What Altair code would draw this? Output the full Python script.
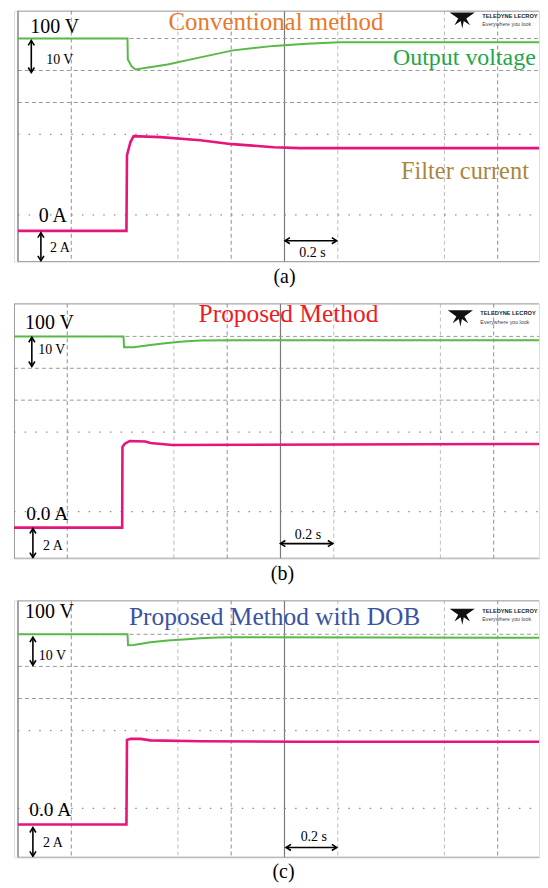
import altair as alt
import pandas as pd

SERIF = "Liberation Serif"
GREEN = "#58B947"
PINK = "#E5157A"
ORANGE = "#E8782C"
GREEN_TXT = "#1FA64A"
BROWN = "#A8873F"
RED = "#EE1C25"
BLUE = "#3953A4"

# ---------------- traces (time in s, voltage in V, current in A) ----------------
a_v_t = [0.0, 0.411, 0.412, 0.426, 0.441, 0.561, 0.684, 0.807, 0.961, 1.084, 1.207, 1.985]
a_v = [100.0, 100.0, 93.5, 91.3, 90.3, 91.9, 94.1, 96.3, 97.7, 98.4, 98.8, 98.8]
a_i_t = [0.0, 0.407, 0.409, 0.415, 0.422, 0.434, 0.535, 0.684, 0.804, 0.961, 1.058, 1.985]
a_i = [0.0, 0.0, 4.73, 5.11, 5.55, 5.92, 5.86, 5.67, 5.42, 5.23, 5.17, 5.17]

b_v_t = [0.0, 0.411, 0.413, 0.449, 0.512, 0.576, 0.636, 0.699, 0.822, 2.0]
b_v = [100.0, 100.0, 96.6, 96.6, 97.3, 97.9, 98.4, 98.7, 98.8, 98.8]
b_i_t = [0.0, 0.406, 0.407, 0.415, 0.434, 0.493, 0.512, 0.594, 2.0]
b_i = [0.0, 0.0, 5.06, 5.25, 5.44, 5.40, 5.31, 5.19, 5.25]

c_v_t = [0.0, 0.411, 0.413, 0.434, 0.497, 0.561, 0.621, 0.684, 0.748, 0.807, 1.985]
c_v = [100.0, 100.0, 96.6, 96.7, 97.5, 98.05, 98.4, 98.8, 99.0, 99.1, 98.9]
c_i_t = [0.0, 0.407, 0.409, 0.422, 0.460, 0.497, 0.684, 1.058, 1.985]
c_i = [0.0, 0.0, 5.27, 5.33, 5.33, 5.24, 5.18, 5.15, 5.15]

# ---------------- oscilloscope grid ----------------
grid_dark_t = [0.2, 0.8, 1.8]
grid_light_t = [0.6, 1.2, 1.6]
center_t = [1.0]
grid_v_dashed = [100.0, 90.0, 80.0]
grid_v_dotted = [70.0]
grid_i_dotted = [1.0]

UP = "M -0.5 0.8 L 0 0 L 0.5 0.8"
DOWN = "M -0.5 -0.8 L 0 0 L 0.5 -0.8"
LEFT = "M 0.8 -0.5 L 0 0 L 0.8 0.5"
RIGHT = "M -0.8 -0.5 L 0 0 L -0.8 0.5"
LOGO = ("M -1 -0.6 L 1 -0.6 L 0.32 -0.12 L 0.62 0.42 L 0.12 0.08 "
        "L 0 0.7 L -0.12 0.08 L -0.62 0.42 L -0.32 -0.12 Z")


def build_panel(p):
    tdom, vdom, idom = p["tdom"], p["vdom"], p["idom"]
    tmax = tdom[1]

    def X(f):
        return alt.X(f, type="quantitative", scale=alt.Scale(domain=tdom), axis=None)

    def YV(f):
        return alt.Y(f, type="quantitative", scale=alt.Scale(domain=vdom), axis=None)

    def YI(f):
        return alt.Y(f, type="quantitative", scale=alt.Scale(domain=idom), axis=None)

    L = []
    L.append(alt.Chart(pd.DataFrame({"t": grid_dark_t})).mark_rule(
        color="#8f8f8f", strokeWidth=1, strokeDash=[4, 3], clip=True).encode(x=X("t")))
    L.append(alt.Chart(pd.DataFrame({"t": grid_light_t})).mark_rule(
        color="#bdbdbd", strokeWidth=1, strokeDash=[4, 3], clip=True).encode(x=X("t")))
    L.append(alt.Chart(pd.DataFrame({"t": center_t})).mark_rule(
        color="#7a7a7a", strokeWidth=1.2, clip=True).encode(x=X("t")))
    L.append(alt.Chart(pd.DataFrame({"v": grid_v_dashed, "x0": 0.0, "x1": tmax})).mark_rule(
        color="#9a9a9a", strokeWidth=1, strokeDash=[4, 3], clip=True).encode(
        y=YV("v"), x=X("x0"), x2=alt.X2("x1")))
    L.append(alt.Chart(pd.DataFrame({"v": grid_v_dotted, "x0": 0.0, "x1": tmax})).mark_rule(
        color="#8a8a8a", strokeWidth=1.2, strokeDash=[1.5, 9.2], clip=True).encode(
        y=YV("v"), x=X("x0"), x2=alt.X2("x1")))
    L.append(alt.Chart(pd.DataFrame({"v": grid_i_dotted, "x0": 0.0, "x1": tmax})).mark_rule(
        color="#8a8a8a", strokeWidth=1.2, strokeDash=[1.5, 9.2], clip=True).encode(
        y=YI("v"), x=X("x0"), x2=alt.X2("x1")))
    L.append(alt.Chart(pd.DataFrame({"t": [0.0]})).mark_rule(
        color="#8c8c8c", strokeWidth=1.6, clip=True).encode(x=X("t")))
    L.append(alt.Chart(pd.DataFrame({"v": [vdom[0], vdom[1]], "x0": 0.0, "x1": tmax})).mark_rule(
        color="#8c8c8c", strokeWidth=1.6, clip=True).encode(y=YV("v"), x=X("x0"), x2=alt.X2("x1")))
    L.append(alt.Chart(pd.DataFrame({"t": p["vt"], "v": p["v"]})).mark_line(
        color=GREEN, strokeWidth=2, clip=True).encode(x=X("t"), y=YV("v")))
    L.append(alt.Chart(pd.DataFrame({"t": p["it"], "v": p["i"]})).mark_line(
        color=PINK, strokeWidth=2.6, clip=True).encode(x=X("t"), y=YI("v")))

    def txt(text, t, val, yf, size, color="black", font=SERIF, align="center",
            baseline="alphabetic", weight="normal"):
        return alt.Chart(pd.DataFrame({"t": [t], "v": [val]})).mark_text(
            text=text, font=font, fontSize=size, color=color, align=align,
            baseline=baseline, fontWeight=weight, clip=True).encode(x=X("t"), y=yf("v"))

    for (text, t, val, size, color) in p["vtexts"]:
        L.append(txt(text, t, val, YV, size, color))
    for (text, t, val, size, color) in p["itexts"]:
        L.append(txt(text, t, val, YI, size, color))

    def head(t, v, shape, yf):
        return alt.Chart(pd.DataFrame({"t": [t], "v": [v]})).mark_point(
            shape=shape, filled=False, size=150, strokeWidth=1.6, color="black",
            opacity=1, clip=True).encode(x=X("t"), y=yf("v"))

    def varrow(t, hi, lo, yf):
        df = pd.DataFrame({"t": [t], "a": [hi], "b": [lo]})
        return [alt.Chart(df).mark_rule(color="black", strokeWidth=1.6, clip=True).encode(
            x=X("t"), y=yf("a"), y2=alt.Y2("b")),
            head(t, hi, UP, yf), head(t, lo, DOWN, yf)]

    def harrow(t1, t2, val, yf):
        df = pd.DataFrame({"a": [t1], "b": [t2], "v": [val]})
        return [alt.Chart(df).mark_rule(color="black", strokeWidth=1.6, clip=True).encode(
            x=X("a"), x2=alt.X2("b"), y=yf("v")),
            head(t1, val, LEFT, yf), head(t2, val, RIGHT, yf)]

    L += varrow(*p["varrow"], YV)
    L += varrow(*p["iarrow"], YI)
    L += harrow(*p["tarrow"], YI)

    lt, lv, tt, tv1, tv2 = p["logo"]
    L.append(alt.Chart(pd.DataFrame({"t": [lt], "v": [lv]})).mark_point(
        shape=LOGO, filled=True, size=640, color="#111111", opacity=1, clip=True).encode(
        x=X("t"), y=YV("v")))
    L.append(txt("TELEDYNE LECROY", tt, tv1, YV, 5.7, "#222222", font="Liberation Sans",
                 align="left", baseline="middle", weight="bold"))
    L.append(txt("Everywhere you look", tt, tv2, YV, 5.3, "#444444", font="Liberation Sans",
                 align="left", baseline="middle"))

    return alt.layer(*L).resolve_scale(y="independent").properties(
        width=527, height=p["height"],
        title=alt.TitleParams(p["caption"], orient="bottom", font=SERIF, fontSize=20,
                              fontWeight="normal", color="black", offset=5,
                              anchor="middle", dx=p["dx"]))


panels = [
    dict(tdom=[-0.015, 1.955], vdom=[30.22, 108.72], idom=[-1.93, 13.77], height=252,
         vt=a_v_t, v=a_v, it=a_i_t, i=a_i, caption="(a)", dx=8,
         vtexts=[("100 V", 0.138, 101.6, 20, "black"),
                 ("10 V", 0.157, 91.9, 14, "black"),
                 ("Conventional method", 0.968, 102.8, 25, ORANGE),
                 ("Output voltage", 1.675, 91.6, 24, GREEN_TXT)],
         itexts=[("Filter current", 1.677, 3.24, 24.5, BROWN),
                 ("0 A", 0.131, 0.56, 20, "black"),
                 ("2 A", 0.157, -1.31, 14, "black"),
                 ("0.2 s", 1.105, -1.62, 14, "black")],
         varrow=(0.050, 99.4, 89.4), iarrow=(0.086, -0.12, -1.87),
         tarrow=(1.002, 1.196, -0.62),
         logo=(1.667, 105.8, 1.742, 106.9, 104.5)),
    dict(tdom=[0.0, 1.970], vdom=[30.31, 110.31], idom=[-1.94, 14.06], height=256,
         vt=b_v_t, v=b_v, it=b_i_t, i=b_i, caption="(b)", dx=6,
         vtexts=[("100 V", 0.133, 102.2, 20, "black"),
                 ("10 V", 0.142, 94.4, 14, "black"),
                 ("Proposed Method", 1.030, 104.4, 25.5, RED)],
         itexts=[("0.0 A", 0.125, 0.5, 19.5, "black"),
                 ("2 A", 0.146, -1.375, 14, "black"),
                 ("0.2 s", 1.103, -0.69, 14, "black")],
         varrow=(0.067, 99.7, 90.6), iarrow=(0.071, -0.06, -1.875),
         tarrow=(1.0, 1.196, -1.0),
         logo=(1.675, 105.8, 1.750, 107.2, 104.4)),
    dict(tdom=[-0.015, 1.955], vdom=[30.54, 110.54], idom=[-2.05, 13.95], height=258,
         vt=c_v_t, v=c_v, it=c_i_t, i=c_i, caption="(c)", dx=7,
         vtexts=[("100 V", 0.118, 105.0, 20, "black"),
                 ("10 V", 0.129, 91.9, 14, "black"),
                 ("Proposed Method with DOB", 0.963, 102.8, 25.5, BLUE)],
         itexts=[("0.0 A", 0.121, 0.5, 19.5, "black"),
                 ("2 A", 0.131, -1.43, 14, "black"),
                 ("0.2 s", 1.110, -1.0, 14, "black")],
         varrow=(0.056, 99.07, 90.4), iarrow=(0.056, -0.19, -1.98),
         tarrow=(1.006, 1.196, -1.43),
         logo=(1.667, 105.6, 1.742, 107.1, 104.65)),
]

chart = alt.vconcat(*[build_panel(p) for p in panels], spacing=15).properties(
    padding={"left": 5, "top": 0, "right": 0, "bottom": 0}
).configure_view(stroke=None).configure(background="white")

chart.save("out.html", embed_options={"renderer": "svg", "actions": False})
